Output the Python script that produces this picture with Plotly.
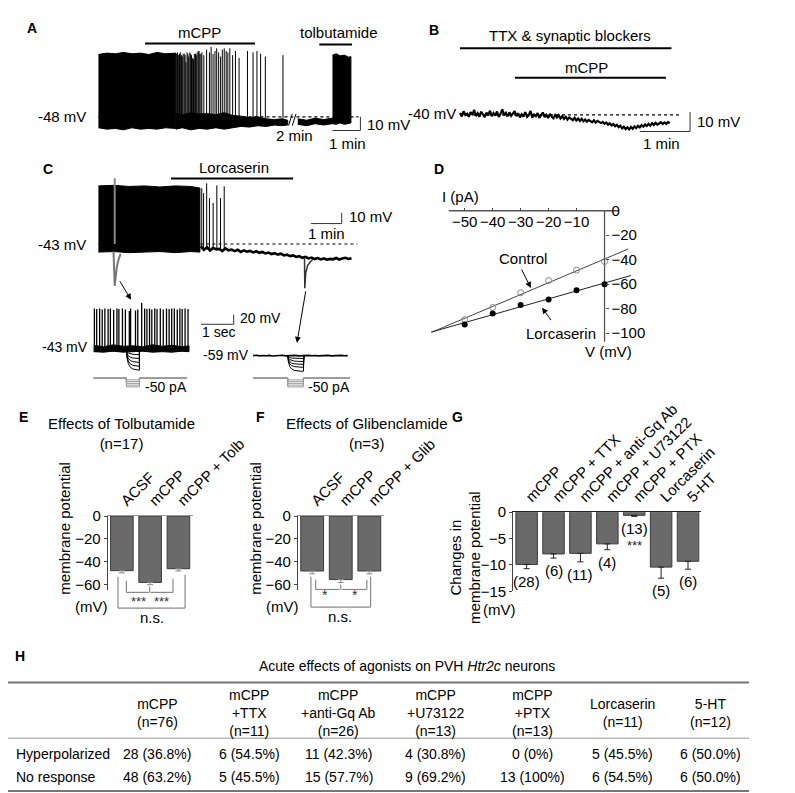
import numpy as np
import plotly.graph_objects as go

W, H = 795, 793
SANS = "Liberation Sans, Arial, Helvetica, sans-serif"

# ======================= DATA =======================
# ---- Panel A (time: min, Vm: mV) ----
A_rmp = -48
A_burst_t = [0.0, 0.3, 0.6, 0.9, 1.2, 1.5, 1.8, 2.1, 2.4, 2.77]
A_burst_top = [-2.5, -1.5, -2.0, -1.0, -2.0, -1.5, -2.5, -1.0, -2.0, -1.5]
A_burst_bot = [-56.0, -57.0, -56.5, -57.5, -56.0, -57.0, -56.5, -57.0, -56.0, -56.5]
A_spike_t = [2.80, 2.83, 2.87, 2.90, 2.93, 2.97, 3.00, 3.03, 3.07, 3.10, 3.13, 3.17, 3.20, 3.23,
             3.27, 3.30, 3.33, 3.37, 3.40, 3.43, 3.47, 3.50, 3.53, 3.57, 3.60, 3.63, 3.67, 3.70,
             3.77, 3.87, 3.97, 4.03, 4.10, 4.17, 4.23, 4.30, 4.37, 4.43, 4.50, 4.57, 4.63, 4.70,
             4.80, 4.90, 5.03, 5.33, 5.53, 5.67, 5.80, 5.97, 6.60]
A_spike_peak = [-2, -1, -3, -2, -1, -3, -4, -2, -2, -3, -8, -1, -2, -4, -1, -2, -3, -5, -6, -2,
                -2, -3, -1, 0, 0, -2, -2, -1, -3, 1, -1, 3, -2, 0, 2, -1, -4, 1, 2, 0,
                -1, 2, -3, 0, -5, 0, -1, 0, -2, -4, -3]
A_noise_t = [2.77, 3.0, 3.3, 3.6, 3.9, 4.2, 4.5, 4.8, 5.1, 5.4, 5.7, 6.0, 6.3, 6.55, 6.77]
A_noise_top = [-45.5, -46.5, -45.0, -46.0, -45.5, -46.5, -45.0, -47.0, -47.5, -48.5, -48.0, -49.5, -50.0, -49.5, -50.5]
A_noise_bot = [-57.0, -56.0, -57.5, -56.5, -57.0, -56.0, -57.0, -56.0, -55.0, -55.5, -54.5, -55.0, -54.0, -54.5, -54.0]
A_post_t = [7.13, 7.45, 7.75, 8.05, 8.37]
A_post_top = [-49.5, -50.5, -49.0, -50.0, -49.0]
A_post_bot = [-53.5, -54.5, -53.0, -54.0, -53.0]
A_tolb_t = [8.37, 8.5, 8.65, 8.8, 8.95, 9.03]
A_tolb_top = [-3.0, -2.0, -3.5, -3.0, -4.5, -4.0]
A_tolb_bot = [-53.0, -53.5, -52.5, -53.5, -53.0, -52.5]
A_mcpp_on = [1.67, 5.6]
A_tolbutamide_on = [7.9, 9.07]

# ---- Panel B (time: min, Vm: mV) ----
B_rmp = -40
B_dt = 0.035
B_v = [-39.0, -40.8, -38.2, -40.1, -39.4, -41.0, -38.6, -39.9, -37.5, -40.6, -39.2, -40.9, -38.4, -39.8, -41.2, -38.9,
       -40.3, -37.9, -40.7, -39.1, -40.4, -38.3, -41.1, -39.5, -37.2, -40.2, -39.0, -40.8, -38.7, -40.5, -39.3, -38.1,
       -40.6, -39.2, -41.3, -39.7, -40.9, -38.6, -41.0, -40.2, -38.0, -41.4, -39.8, -40.7, -39.1, -41.5, -40.3, -38.8,
       -41.2, -40.0, -41.6, -39.5, -40.8, -41.7, -40.1,
       -41.3, -40.2, -41.9, -40.7, -42.1, -41.0, -42.4, -41.3, -41.8, -42.7, -41.5, -42.9, -41.9, -43.1, -42.0, -43.3,
       -42.4, -43.5, -42.6, -43.0, -43.8, -42.8, -44.0, -43.1, -43.7, -44.2,
       -43.6, -44.6, -43.9, -45.0, -44.3, -45.4, -44.7, -45.8, -45.1, -46.3, -45.5, -46.9, -46.0, -47.3, -46.4, -47.5,
       -46.2, -47.1, -45.9, -46.8,
       -45.6, -46.4, -45.2, -46.0, -44.9, -45.7, -44.6, -45.5, -44.3, -45.2, -44.1, -45.0, -44.4, -43.8, -44.7, -43.9,
       -44.6, -43.7, -44.3]
B_ttx_on = [0.0, 4.2]
B_mcpp_on = [1.09, 4.09]

# ---- Panel C main trace (time: min, Vm: mV) ----
C_rmp = -43
C_burst_t = [0.0, 0.5, 1.0, 1.5, 2.0, 2.5, 3.0, 3.3]
C_burst_top = [11.0, 11.5, 10.5, 11.0, 10.0, 11.0, 10.5, 9.0]
C_burst_bot = [-50.5, -50.0, -51.0, -50.5, -50.0, -51.0, -50.0, -50.5]
C_spike_t = [3.36, 3.42, 3.52, 3.61, 3.73, 3.85, 3.97, 4.09]
C_spike_peak = [8.8, 4.3, 13.4, -0.3, -4.8, 11.5, -0.3, 10.6]
C_base_t0 = 3.33
C_base_dt = 0.1
C_base_v = [-45.0, -48.5, -46.0, -49.0, -46.5, -48.0, -47.5, -49.5, -47.0, -48.8,
            -48.2, -49.6, -48.4, -50.3, -48.9, -50.1, -49.4, -50.8, -49.7, -51.2,
            -50.4, -51.7, -50.9, -52.3, -51.5, -52.8, -52.0, -53.6, -52.9, -54.2,
            -53.6, -55.0, -54.3, -55.8, -54.9, -56.4, -55.6, -57.0, -56.1, -57.3,
            -56.4, -57.6, -56.8, -57.2, -56.0, -57.4, -56.5, -55.8, -56.9, -56.2]
C_probe1_t = [0.49, 0.53, 0.56, 0.60, 0.66, 0.72]
C_probe1_v = [-50, -82, -74, -64, -57, -52]
C_probe1_up = [0.53, 18]
C_probe2_t = [6.70, 6.71, 6.74, 6.80, 6.88, 6.98]
C_probe2_v = [-56, -84, -70, -63, -60, -57]
C_lorc_on = [2.36, 6.33]

# ---- Panel C insets (time: s, Vm: mV, current: pA) ----
CI_rmp = -43
CI_spike_t = [0.02, 0.09, 0.18, 0.26, 0.34, 0.44, 0.51, 0.61, 0.71, 0.77, 0.88, 0.97, 1.09, 1.13,
              1.28, 1.35, 1.47, 1.56, 1.63, 1.71, 1.78, 1.87, 1.94, 2.04, 2.13, 2.23, 2.31, 2.39,
              2.47, 2.56, 2.64, 2.71, 2.80, 2.89]
CI_spike_peak = [41, 40, 41, 39, 41, 40, 41, 38, 41, 40, 41, 39, 36, 41, 37, 39, 53, 41, 40, 41,
                 39, 41, 40, 41, 39, 41, 40, 41, 41, 39, 41, 40, 41, 40]
CI_base_t = [0.0, 0.3, 0.6, 0.9, 1.2, 1.5, 1.8, 2.1, 2.4, 2.7, 2.92]
CI_base_top = [-34, -37, -33, -36, -35, -37, -33, -36, -34, -37, -35]
CI_base_bot = [-47, -48, -46, -48, -47, -46, -48, -47, -48, -46, -47]
CI_step_amp = [-10, -18, -26, -34, -42]
CI_step_on = [1.0, 1.4]
CR_rmp = -59
CR_base_dt = 0.1
CR_base_v = [-59.0, -58.3, -59.6, -58.7, -59.4, -58.5, -59.7, -58.9, -59.2, -58.4,
             -59.5, -58.8, -59.3, -58.6, -59.6, -58.9, -59.1, -58.5, -59.4, -58.7,
             -59.6, -58.8, -59.2, -58.5, -59.5, -58.9, -59.3, -58.6, -59.4, -59.0]
CR_step_amp = [-6, -12, -18, -24, -32]
CR_step_on = [1.06, 1.54]
STEP_shape_dt = [0.0, 0.02, 0.06, 0.12, 0.2, 0.3, 0.4]
STEP_shape_frac = [0.0, 0.4, 0.68, 0.85, 0.94, 0.98, 1.0]
I_steps = [-10, -20, -30, -40, -50]

# ---- Panel D (I-V) ----
D_V = [-50, -40, -30, -20, -10, 0]
D_control = [-89, -79, -67, -57, -48.5, -41.5]
D_lorcaserin = [-93, -84, -77, -72.5, -65, -60]

# ---- Panels E, F, G ----
E_labels = ["ACSF", "mCPP", "mCPP + Tolb"]
E_vals = [-47.7, -58.0, -46.0]
E_err = [2.0, 2.0, 2.0]
F_labels = ["ACSF", "mCPP", "mCPP + Glib"]
F_vals = [-48.0, -55.5, -48.0]
F_err = [2.5, 2.5, 2.5]
G_labels = ["mCPP", "mCPP + TTX", "mCPP + anti-Gq Ab", "mCPP + U73122", "mCPP + PTX", "Lorcaserin", "5-HT"]
G_vals = [-9.9, -7.9, -7.8, -6.0, -0.6, -10.4, -9.3]
G_err = [0.8, 0.8, 1.6, 1.1, 0.2, 2.1, 1.5]
G_n = ["(28)", "(6)", "(11)", "(4)", "(13)", "(5)", "(6)"]

# ---- Panel H (table) ----
H_cols = ["mCPP<br>(n=76)", "mCPP<br>+TTX<br>(n=11)", "mCPP<br>+anti-Gq Ab<br>(n=26)",
          "mCPP<br>+U73122<br>(n=13)", "mCPP<br>+PTX<br>(n=13)", "Lorcaserin<br>(n=11)", "5-HT<br>(n=12)"]
H_rows = ["Hyperpolarized", "No response"]
H_hyper = ["28 (36.8%)", "6 (54.5%)", "11 (42.3%)", "4 (30.8%)", "0 (0%)", "5 (45.5%)", "6 (50.0%)"]
H_none = ["48 (63.2%)", "5 (45.5%)", "15 (57.7%)", "9 (69.2%)", "13 (100%)", "6 (54.5%)", "6 (50.0%)"]

# ======================= HELPERS =======================
fig = go.Figure()
LAY = {}
ANN = []
SHP = []


def xy(n):
    return ('x' if n == 1 else f'x{n}', 'y' if n == 1 else f'y{n}')


def axes(n, box, ox, oy, t0, v0, sx, sy):
    x0, y0, x1, y1 = box
    xn = 'xaxis' if n == 1 else f'xaxis{n}'
    yn = 'yaxis' if n == 1 else f'yaxis{n}'
    LAY[xn] = dict(domain=[x0 / W, x1 / W], range=[t0 + (x0 - ox) / sx, t0 + (x1 - ox) / sx],
                   visible=False, anchor=xy(n)[1], showgrid=False, zeroline=False)
    LAY[yn] = dict(domain=[1 - y1 / H, 1 - y0 / H], range=[v0 - (y1 - oy) / sy, v0 + (oy - y0) / sy],
                   visible=False, anchor=xy(n)[0], showgrid=False, zeroline=False)


def line(n, x, y, color='black', width=1.0, dash=None):
    xa, ya = xy(n)
    fig.add_trace(go.Scatter(x=x, y=y, mode='lines', xaxis=xa, yaxis=ya, hoverinfo='skip',
                             line=dict(color=color, width=width, dash=dash)))


def poly(n, t, top, bot, color='black'):
    t = list(t)
    xa, ya = xy(n)
    fig.add_trace(go.Scatter(x=t + t[::-1], y=list(top) + list(bot)[::-1], mode='lines', fill='toself',
                             fillcolor=color, xaxis=xa, yaxis=ya, hoverinfo='skip',
                             line=dict(color=color, width=1)))


def spikes(n, ts, base, peaks, color='black', width=1.0):
    xs, ys = [], []
    for t, p in zip(ts, peaks):
        xs += [t, t, None]
        ys += [base, p, None]
    line(n, xs, ys, color, width)


def text(s, x, y, size=15, xanchor='center', yanchor='middle', bold=False, angle=0, color='black'):
    if bold:
        s = f"<b>{s}</b>"
    ANN.append(dict(text=s, x=x / W, y=1 - y / H, xref='paper', yref='paper', showarrow=False,
                    xanchor=xanchor, yanchor=yanchor, textangle=angle,
                    font=dict(size=size, family=SANS, color=color)))


def arrow(x0, y0, x1, y1):
    ANN.append(dict(text='', x=x1 / W, y=1 - y1 / H, xref='paper', yref='paper', showarrow=True,
                    ax=x0 - x1, ay=y0 - y1, axref='pixel', ayref='pixel', arrowhead=2,
                    arrowsize=1.2, arrowwidth=1, arrowcolor='black'))


def seg(x0, y0, x1, y1, color='black', width=1.0, dash=None):
    SHP.append(dict(type='line', xref='paper', yref='paper', x0=x0 / W, y0=1 - y0 / H,
                    x1=x1 / W, y1=1 - y1 / H, line=dict(color=color, width=width, dash=dash)))


def drugbar(n, on, ypx, width=2):
    SHP.append(dict(type='line', xref=xy(n)[0], yref='paper', x0=on[0], x1=on[1],
                    y0=1 - ypx / H, y1=1 - ypx / H, line=dict(color='black', width=width)))


# ======================= PANEL A =======================
axes(1, (60, 20, 400, 135), 97, 102, 0, A_rmp, 30, 1.4)
poly(1, A_burst_t, A_burst_top, A_burst_bot)
poly(1, A_noise_t, A_noise_top, A_noise_bot)
spikes(1, A_spike_t, -54, A_spike_peak)
poly(1, A_post_t, A_post_top, A_post_bot)
poly(1, A_tolb_t, A_tolb_top, A_tolb_bot)
line(1, [0, 9.3], [A_rmp, A_rmp], width=1.2, dash='dot')
line(1, [8.37, 9.37, 9.37], [A_rmp - 10, A_rmp - 10, A_rmp], color='#333')
drugbar(1, A_mcpp_on, 27)
drugbar(1, A_tolbutamide_on, 28)
seg(301, 111, 305, 99, width=1)
seg(305, 111, 309, 99, width=1)
text("A", 26, 11, size=14, bold=True)
text("mCPP", 205, 16, size=15)
text("tolbutamide", 355, 16, size=15)
text("-48 mV", 86, 102, size=15, xanchor='right')
text("10 mV", 383, 110, size=15, xanchor='left')
text("1 min", 364, 129, size=15)
text("2 min", 307, 121, size=15)

# ======================= PANEL B =======================
axes(2, (420, 20, 790, 135), 485, 100, 0, B_rmp, 54, 2)
B_t = [i * B_dt for i in range(len(B_v))]
line(2, B_t, B_v, width=2.2)
line(2, [0, 4.35], [B_rmp, B_rmp], width=1.2, dash='dot')
line(2, [3.57, 4.57, 4.57], [B_rmp - 8.5, B_rmp - 8.5, B_rmp + 1.5], color='#333')
drugbar(2, B_ttx_on, 32)
drugbar(2, B_mcpp_on, 62)
text("B", 457, 13, size=14, bold=True)
text("TTX &amp; synaptic blockers", 603, 19, size=15)
text("mCPP", 621, 52, size=15)
text("-40 mV", 483, 99, size=15, xanchor='right')
text("10 mV", 737, 107, size=15, xanchor='left')
text("1 min", 701, 129, size=15)

# ======================= PANEL C =======================
axes(3, (30, 150, 400, 290), 97, 232, 0, C_rmp, 33, 1.1)
poly(3, C_burst_t, C_burst_top, C_burst_bot)
spikes(3, C_spike_t, -48, C_spike_peak)
C_base_t = [C_base_t0 + i * C_base_dt for i in range(len(C_base_v))]
line(3, C_base_t, C_base_v, width=2.6)
line(3, [C_probe1_up[0], C_probe1_up[0]], [C_rmp, C_probe1_up[1]], color='#888', width=2)
line(3, C_probe1_t, C_probe1_v, color='#777', width=2)
line(3, C_probe2_t, C_probe2_v, color='#333', width=1.5)
line(3, [0, 8.42], [C_rmp, C_rmp], width=1.2, dash='dot')
line(3, [6.91, 7.91, 7.91], [C_rmp + 19, C_rmp + 19, C_rmp + 29], color='#333')
drugbar(3, C_lorc_on, 165)
text("C", 43, 155, size=14, bold=True)
text("Lorcaserin", 243, 154, size=15)
text("-43 mV", 86, 232, size=15, xanchor='right')
text("10 mV", 364, 204, size=15, xanchor='left')
text("1 min", 342, 221, size=15)

# left inset
axes(4, (85, 280, 250, 368), 92, 340, 0, CI_rmp, 35, 0.5)
poly(4, CI_base_t, CI_base_top, CI_base_bot)
spikes(4, CI_spike_t, -47, CI_spike_peak, width=1.3)
for amp in CI_step_amp:
    xs = [CI_step_on[0] + d for d in STEP_shape_dt] + [CI_step_on[1]]
    ys = [CI_rmp + amp * f for f in STEP_shape_frac] + [CI_rmp]
    line(4, xs, ys, width=1)
line(4, [3.29, 4.29, 4.29], [CI_rmp + 52, CI_rmp + 52, CI_rmp + 72], color='#333')
axes(5, (85, 362, 200, 384), 92, 369, 0, 0, 35, 0.18)
for i_st in I_steps:
    line(5, [0, CI_step_on[0], CI_step_on[0], CI_step_on[1], CI_step_on[1], 2.86],
         [0, 0, i_st, i_st, 0, 0], color='#999', width=1)
text("-43 mV", 88, 337, size=14, xanchor='right')
text("-50 pA", 145, 378, size=14, xanchor='left')
text("20 mV", 247, 308, size=14, xanchor='left')
text("1 sec", 226, 322, size=14)

# right inset
axes(6, (255, 320, 380, 368), 263, 346, 0, CR_rmp, 35, 0.5)
CR_t = [i * CR_base_dt for i in range(len(CR_base_v))]
line(6, CR_t, CR_base_v, width=1.6)
for amp in CR_step_amp:
    xs = [CR_step_on[0] + d for d in STEP_shape_dt] + [CR_step_on[1], CR_step_on[1] + 0.02]
    ys = [CR_rmp + amp * f for f in STEP_shape_frac] + [CR_rmp + amp, CR_rmp]
    line(6, xs, ys, width=1)
axes(7, (255, 362, 380, 384), 263, 369, 0, 0, 35, 0.18)
for i_st in I_steps:
    line(7, [0, CR_step_on[0], CR_step_on[0], CR_step_on[1], CR_step_on[1], 2.97],
         [0, 0, i_st, i_st, 0, 0], color='#999', width=1)
text("-59 mV", 261, 345, size=14, xanchor='right')
text("-50 pA", 320, 378, size=14, xanchor='left')
arrow(120, 269, 132, 289)
arrow(319, 280, 310, 333)

# ======================= PANEL D =======================
LAY['xaxis8'] = dict(domain=[454 / W, 670 / W], range=[-62, 10], anchor='free', position=1 - 198 / H,
                     side='bottom', showline=False, ticks='inside', ticklen=3, tickcolor='#444',
                     tickvals=[-50, -40, -30, -20, -10], showgrid=False, zeroline=False,
                     tickfont=dict(size=15, family=SANS, color='black'))
LAY['yaxis8'] = dict(domain=[1 - 335 / H, 1 - 188 / H], range=[(198 - 335) / 1.25, (198 - 188) / 1.25],
                     anchor='free', position=640 / W, side='right', showline=False, ticks='outside',
                     ticklen=3, tickcolor='#444', tickvals=[0, -20, -40, -60, -80, -100],
                     showgrid=False, zeroline=False, tickfont=dict(size=15, family=SANS, color='black'))
line(8, [-55.7, 5], [0, 0], color='#555', width=1.3)
line(8, [0, 0], [0, -107], color='#555', width=1.3)
pc = np.polyfit(D_V, D_control, 1)
pl = np.polyfit(D_V, D_lorcaserin, 1)
line(8, [-62, 8.5], [np.polyval(pc, -62), np.polyval(pc, 8.5)], color='#444', width=1)
line(8, [-62, 9.5], [np.polyval(pl, -62), np.polyval(pl, 9.5)], color='#222', width=1)
fig.add_trace(go.Scatter(x=D_V, y=D_control, mode='markers', xaxis='x8', yaxis='y8', hoverinfo='skip',
                         marker=dict(symbol='circle-open', size=6, color='#888', line=dict(width=1))))
fig.add_trace(go.Scatter(x=D_V, y=D_lorcaserin, mode='markers', xaxis='x8', yaxis='y8', hoverinfo='skip',
                         marker=dict(symbol='circle', size=6, color='black')))
text("D", 462, 155, size=14, bold=True)
text("I (pA)", 485, 183, size=15)
text("V (mV)", 644, 342, size=15)
text("Control", 552, 247, size=15)
text("Lorcaserin", 593, 323, size=15)
arrow(551, 257, 561, 277)
arrow(583, 311, 573, 297)


# ======================= PANELS E, F, G =======================
def barpanel(n, x0, x1, y0, y1, yr, tickvals, labels, vals, err, errcolor, topline):
    LAY[f'xaxis{n}'] = dict(domain=[x0 / W, x1 / W], range=[-0.5, len(labels) - 0.5], anchor=f'y{n}',
                            side='top', tickangle=-45, ticks='', showline=True, linecolor=topline,
                            linewidth=1, showgrid=False, zeroline=False, type='category',
                            tickfont=dict(size=15, family=SANS, color='black'))
    LAY[f'yaxis{n}'] = dict(domain=[1 - y1 / H, 1 - y0 / H], range=yr, anchor=f'x{n}', showline=True,
                            linecolor='#444', linewidth=1, ticks='outside', ticklen=3, tickcolor='#444',
                            tickvals=tickvals, showgrid=False, zeroline=False,
                            tickfont=dict(size=15, family=SANS, color='black'))
    fig.add_trace(go.Bar(x=labels, y=vals, xaxis=f'x{n}', yaxis=f'y{n}', width=0.8, hoverinfo='skip',
                         marker=dict(color='#6a6a6a', line=dict(color='#3c3c3c', width=1)),
                         error_y=dict(type='data', symmetric=False, array=[0] * len(vals), arrayminus=err,
                                      color=errcolor, thickness=1, width=3)))


barpanel(9, 107, 198, 510, 586, [-65, 0], [0, -20, -40, -60], E_labels, E_vals, E_err, '#888', '#999')
barpanel(10, 311, 403, 510, 586, [-65, 0], [0, -20, -40, -60], F_labels, F_vals, F_err, '#888', '#999')
barpanel(11, 542, 744, 506, 587, [-15, 0], [0, -5, -10, -15], G_labels, G_vals, G_err, '#222', '#222')

# E annotations
text("E", 17, 409, size=14, bold=True)
text("Effects of Tolbutamide<br>(n=17)", 122, 426, size=15)
text("membrane potential", 61, 522, size=15, angle=-90)
text("(mV)", 90, 602, size=15)
for (a, b, c, d) in [(127, 576, 127, 588), (127, 588, 151, 588), (152, 582, 152, 588), (153, 588, 177, 588),
                     (177, 574, 177, 588), (118, 572, 118, 604), (118, 604, 190, 604), (190, 570, 190, 604)]:
    seg(a, b, c, d, color='#888', width=1.2)
text("***", 140, 597, size=13, color='#333')
text("***", 165, 597, size=13, color='#333')
text("n.s.", 154, 614, size=15)

# F annotations
text("F", 271, 409, size=14, bold=True)
text("Effects of Glibenclamide<br>(n=3)", 385, 426, size=15)
text("membrane potential", 266, 522, size=15, angle=-90)
text("(mV)", 294, 602, size=15)
for (a, b, c, d) in [(330, 575, 330, 585), (330, 585, 356, 585), (357, 580, 357, 585), (358, 585, 385, 585),
                     (385, 575, 385, 585), (325, 572, 325, 603), (325, 603, 389, 603), (389, 572, 389, 603)]:
    seg(a, b, c, d, color='#888', width=1.2)
text("*", 340, 591, size=14, color='#333')
text("*", 372, 591, size=14, color='#333')
text("n.s.", 356, 613, size=15)

# G annotations
text("G", 482, 409, size=14, bold=True)
text("Changes in<br>membrane potential", 490, 552, size=15, angle=-90)
text("(mV)", 527, 605, size=15)
for i, (v, e, lab) in enumerate(zip(G_vals, G_err, G_n)):
    ANN.append(dict(text=lab, x=i, y=v - e, xref='x11', yref='y11', showarrow=False, yanchor='top',
                    yshift=-2, font=dict(size=15, family=SANS, color='black')))
ANN.append(dict(text="***", x=4, y=G_vals[4] - G_err[4], xref='x11', yref='y11', showarrow=False,
                yanchor='top', yshift=-20, font=dict(size=13, family=SANS, color='#222')))

# ======================= PANEL H (table) =======================
H_xc = [160, 259, 355, 459, 563, 659, 754]
text("H", 13, 653, size=14, bold=True)
text("Acute effects of agonists on PVH <i>Htr2c</i> neurons", 428, 663, size=14)
seg(0, 680, 795, 680, color='#777', width=2)
seg(0, 737, 795, 737, color='#999', width=1)
seg(0, 791, 795, 791, color='#777', width=2)
for xc, col, h1, h2 in zip(H_xc, H_cols, H_hyper, H_none):
    text(col, xc, 711, size=14)
    text(h1, xc, 753, size=14)
    text(h2, xc, 777, size=14)
text(H_rows[0], 6, 753, size=14, xanchor='left')
text(H_rows[1], 6, 777, size=14, xanchor='left')

# ======================= LAYOUT =======================
fig.update_layout(width=W, height=H, margin=dict(l=0, r=0, t=0, b=0), showlegend=False,
                  paper_bgcolor='white', plot_bgcolor='rgba(0,0,0,0)', annotations=ANN, shapes=SHP,
                  font=dict(family=SANS, size=15, color='black'), bargap=0.2, **LAY)
fig.write_html("out.html")
